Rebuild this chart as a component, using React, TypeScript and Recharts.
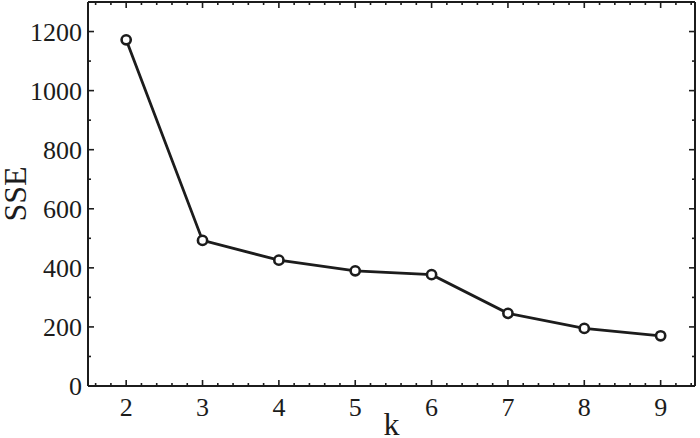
import { LineChart, Line, XAxis, YAxis } from 'recharts';

const kValues = [2, 3, 4, 5, 6, 7, 8, 9];
const sseValues = [1172, 493, 426, 390, 377, 246, 195, 170];

const xMajorTicks = [2, 3, 4, 5, 6, 7, 8, 9];
const xMinorTicks = [
  1.6, 1.8, 2.2, 2.4, 2.6, 2.8, 3.2, 3.4, 3.6, 3.8, 4.2, 4.4, 4.6, 4.8, 5.2, 5.4,
  5.6, 5.8, 6.2, 6.4, 6.6, 6.8, 7.2, 7.4, 7.6, 7.8, 8.2, 8.4, 8.6, 8.8, 9.2, 9.4,
];
const yMajorTicks = [0, 200, 400, 600, 800, 1000, 1200];
const yMinorTicks = [100, 300, 500, 700, 900, 1100];

const data = kValues.map((k, i) => ({ k, sse: sseValues[i] }));
const xTicks = [...xMajorTicks, ...xMinorTicks].sort((a, b) => a - b);
const yTicks = [...yMajorTicks, ...yMinorTicks].sort((a, b) => a - b);

const ink = '#1c1c1c';
const font = '"Liberation Serif", "Times New Roman", serif';

function XTick(props: any) {
  const { x, y, payload, side } = props;
  const major = xMajorTicks.includes(payload.value);
  const len = major ? 6 : 3;
  const dir = side === 'bottom' ? -1 : 1;
  return (
    <g>
      <line x1={x} y1={y} x2={x} y2={y + dir * len} stroke={ink} strokeWidth={1.6} />
      {major && side === 'bottom' && (
        <text x={x} y={y + 30} textAnchor="middle" fontFamily={font} fontSize={26} fill={ink}>
          {payload.value}
        </text>
      )}
    </g>
  );
}

function YTick(props: any) {
  const { x, y, payload, side } = props;
  const major = yMajorTicks.includes(payload.value);
  const len = major ? 6 : 3;
  const dir = side === 'left' ? 1 : -1;
  return (
    <g>
      <line x1={x} y1={y} x2={x + dir * len} y2={y} stroke={ink} strokeWidth={1.6} />
      {major && side === 'left' && (
        <text x={x - 6} y={y} dy="0.35em" textAnchor="end" fontFamily={font} fontSize={26} fill={ink}>
          {payload.value}
        </text>
      )}
    </g>
  );
}

export default function App() {
  return (
    <div style={{ position: 'absolute', left: 0, top: 0, background: '#fff' }}>
      <LineChart width={700} height={438} data={data} margin={{ top: 1, right: 4, left: 0, bottom: 0 }}>
        <XAxis
          dataKey="k"
          type="number"
          domain={[1.5, 9.45]}
          allowDataOverflow
          ticks={xTicks}
          interval={0}
          tickSize={0}
          tickMargin={0}
          height={52}
          axisLine={{ stroke: ink, strokeWidth: 2 }}
          tickLine={false}
          tick={<XTick side="bottom" />}
          label={({ viewBox }: any) => (
            <text
              x={viewBox.x + viewBox.width / 2}
              y={435}
              textAnchor="middle"
              fontFamily={font}
              fontSize={32}
              fill={ink}
            >
              k
            </text>
          )}
        />
        <XAxis
          xAxisId="top"
          orientation="top"
          dataKey="k"
          type="number"
          domain={[1.5, 9.45]}
          allowDataOverflow
          ticks={xTicks}
          interval={0}
          tickSize={0}
          tickMargin={0}
          height={1}
          axisLine={{ stroke: ink, strokeWidth: 2 }}
          tickLine={false}
          tick={<XTick side="top" />}
        />
        <YAxis
          type="number"
          domain={[0, 1300]}
          allowDataOverflow
          ticks={yTicks}
          interval={0}
          tickSize={0}
          tickMargin={0}
          width={88}
          axisLine={{ stroke: ink, strokeWidth: 2 }}
          tickLine={false}
          tick={<YTick side="left" />}
          label={({ viewBox }: any) => {
            const cy = viewBox.y + viewBox.height / 2;
            return (
              <text
                x={26}
                y={cy}
                transform={`rotate(-90 26 ${cy})`}
                textAnchor="middle"
                fontFamily={font}
                fontSize={32}
                fill={ink}
              >
                SSE
              </text>
            );
          }}
        />
        <YAxis
          yAxisId="right"
          orientation="right"
          type="number"
          domain={[0, 1300]}
          allowDataOverflow
          ticks={yTicks}
          interval={0}
          tickSize={0}
          tickMargin={0}
          width={1}
          axisLine={{ stroke: ink, strokeWidth: 2 }}
          tickLine={false}
          tick={<YTick side="right" />}
        />
        {/* invisible twin so the mirrored top/right axes get a domain */}
        <Line
          xAxisId="top"
          yAxisId="right"
          dataKey="sse"
          stroke="none"
          dot={false}
          activeDot={false}
          legendType="none"
          isAnimationActive={false}
        />
        <Line
          dataKey="sse"
          stroke={ink}
          strokeWidth={2.8}
          dot={{ r: 4.6, stroke: ink, strokeWidth: 2.6, fill: '#fff' }}
          isAnimationActive={false}
        />
      </LineChart>
    </div>
  );
}
